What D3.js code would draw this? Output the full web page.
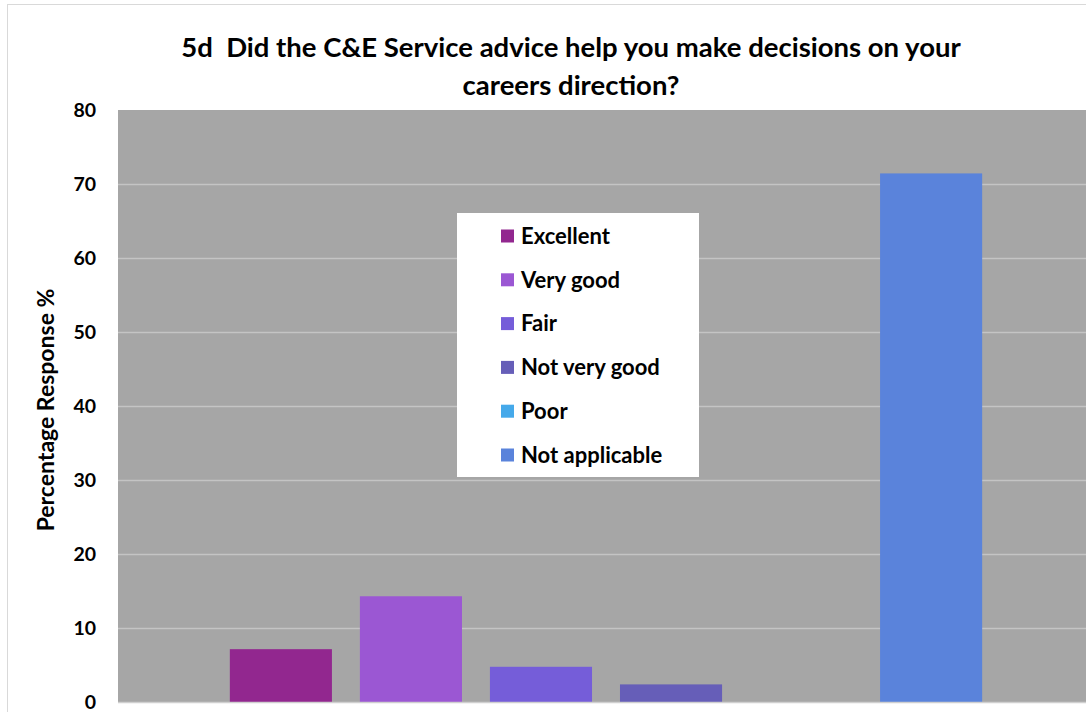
<!DOCTYPE html>
<html>
<head>
<meta charset="utf-8">
<script src="https://cdn.jsdelivr.net/npm/d3@7"></script>
<style>
  html, body { margin: 0; padding: 0; background: #fff; }
  svg { display: block; }
  text { font-family: Lato, Calibri, "Open Sans", sans-serif; font-weight: bold; fill: #000; white-space: pre; }
</style>
</head>
<body>
<svg id="chart" width="1086" height="712"></svg>
<script>
// Survey responses (percent of respondents)
const seriesNames = ["Excellent", "Very good", "Fair", "Not very good", "Poor", "Not applicable"];
const seriesValues = [7.14, 14.29, 4.76, 2.38, 0, 71.43];
const seriesColors = ["#92278F", "#9B57D3", "#755DD9", "#665EB8", "#45A9EA", "#5A83DB"];
const yTicks = [0, 10, 20, 30, 40, 50, 60, 70, 80];
const titleLines = ["5d  Did the C&E Service advice help you make decisions on your", "careers direction?"];
const yAxisTitle = "Percentage Response %";

const svg = d3.select("#chart");

const plot = { left: 118, top: 110, right: 1094, bottom: 702 };

// outer chart frame
svg.append("rect")
  .attr("x", 7.5).attr("y", 4.5)
  .attr("width", 1200).attr("height", 800)
  .attr("fill", "#fff").attr("stroke", "#D9D9D9").attr("stroke-width", 1);

const y = d3.scaleLinear().domain([0, 80]).range([plot.bottom, plot.top]);
const x = d3.scaleBand()
  .domain(seriesNames)
  .range([plot.left, plot.right])
  .paddingInner(0.215)
  .paddingOuter(0.86);

// plot background
svg.append("rect")
  .attr("x", plot.left).attr("y", plot.top)
  .attr("width", plot.right - plot.left).attr("height", plot.bottom - plot.top)
  .attr("fill", "#A6A6A6");

// gridlines
svg.append("g")
  .selectAll("line")
  .data(yTicks.slice(1, -1))
  .join("line")
  .attr("x1", plot.left).attr("x2", plot.right)
  .attr("y1", d => Math.round(y(d)) + 0.5).attr("y2", d => Math.round(y(d)) + 0.5)
  .attr("stroke", "#C4C4C4").attr("stroke-width", 1.5);

// bars
svg.append("g")
  .selectAll("rect")
  .data(seriesNames.map((n, i) => ({ name: n, value: seriesValues[i], color: seriesColors[i] })))
  .join("rect")
  .attr("x", d => x(d.name))
  .attr("width", x.bandwidth())
  .attr("y", d => y(d.value))
  .attr("height", d => y(0) - y(d.value))
  .attr("fill", d => d.color);

// baseline
svg.append("line")
  .attr("x1", plot.left).attr("x2", plot.right)
  .attr("y1", plot.bottom + 0.5).attr("y2", plot.bottom + 0.5)
  .attr("stroke", "#D0D0D0").attr("stroke-width", 1.5);

// y axis labels
const yAxis = d3.axisLeft(y).tickValues(yTicks).tickSize(0).tickPadding(22);
const yg = svg.append("g").attr("transform", `translate(${plot.left},0)`).call(yAxis);
yg.select(".domain").remove();
yg.selectAll("text")
  .style("font-family", "Lato, Calibri, sans-serif")
  .style("font-weight", "bold")
  .style("font-size", "19.5px")
  .attr("fill", "#000");

// y axis title
svg.append("text")
  .attr("transform", "translate(54,410) rotate(-90)")
  .attr("text-anchor", "middle")
  .style("font-size", "23px")
  .text(yAxisTitle);

// chart title
svg.append("g").selectAll("text")
  .data(titleLines)
  .join("text")
  .attr("x", 571)
  .attr("y", (d, i) => 57 + i * 38)
  .attr("text-anchor", "middle")
  .style("font-size", "27.5px")
  .text(d => d);

// legend
const legend = svg.append("g");
legend.append("rect")
  .attr("x", 457).attr("y", 213).attr("width", 242).attr("height", 264)
  .attr("fill", "#fff");
const item = legend.selectAll("g.item")
  .data(seriesNames)
  .join("g")
  .attr("class", "item")
  .attr("transform", (d, i) => `translate(501,${236 + i * 43.8})`);
item.append("rect")
  .attr("x", 0).attr("y", -6.5).attr("width", 13).attr("height", 13)
  .attr("fill", (d, i) => seriesColors[i]);
item.append("text")
  .attr("x", 20).attr("y", 0).attr("dy", "0.35em")
  .style("font-size", "22px")
  .text(d => d);
</script>
</body>
</html>
